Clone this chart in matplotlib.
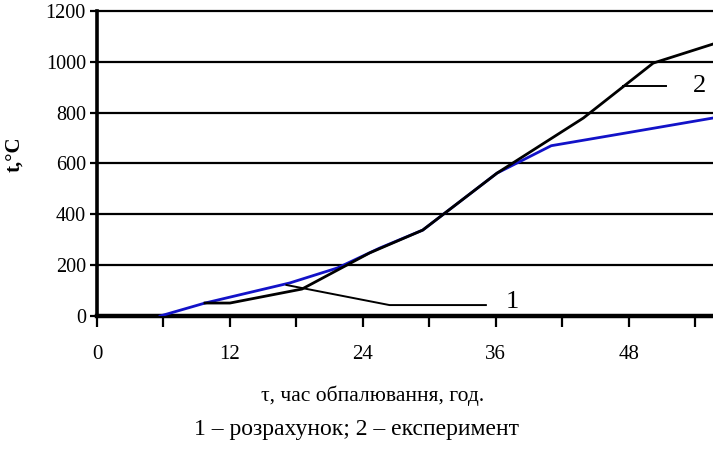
import numpy as np
import matplotlib.pyplot as plt

plt.rcParams['font.family'] = ['Liberation Serif', 'DejaVu Serif']

# 1 - розрахунок (blue), 2 - експеримент (black)
calc_h = [5.7, 9.75, 17.4, 21.7, 25.5, 29.4, 36.1, 41.0, 48.0, 55.6]
calc_t = [0, 51, 130, 189, 267, 338, 562, 670, 722, 779]

exp_h = [9.75, 12.0, 18.5, 24.6, 29.4, 36.1, 43.9, 50.2, 55.6]
exp_t = [51, 51, 106, 248, 338, 562, 779, 995, 1070]

x_ticks = [0, 6, 12, 18, 24, 30, 36, 42, 48, 54]
x_labels = ['0', '', '12', '', '24', '', '36', '', '48', '']
y_ticks = [0, 200, 400, 600, 800, 1000, 1200]

# leader lines for curve labels
lead1_h = [17.1, 26.4, 35.1]
lead1_t = [122, 43, 43]
lead2_h = [47.5, 51.4]
lead2_t = [905, 905]

fig = plt.figure(figsize=(7.13, 4.51), dpi=100)
ax = fig.add_axes([97 / 713, 1 - 316 / 451, 1 - 97 / 713, (316 - 11) / 451])

for yv in y_ticks[1:]:
    ax.axhline(yv, color='black', lw=1.6, clip_on=False, zorder=1)

ax.plot(calc_h, calc_t, color='#1212c8', lw=2.0, zorder=3)
ax.plot(exp_h, exp_t, color='black', lw=2.0, zorder=4)

ax.plot(lead1_h, lead1_t, color='black', lw=1.4, zorder=4)
ax.plot(lead2_h, lead2_t, color='black', lw=1.4, zorder=4)
ax.text(37.5, 55, '1', fontsize=19, ha='center', va='center')
ax.text(54.4, 905, '2', fontsize=19, ha='center', va='center')

ax.set_xlim(0, 55.6)
ax.set_ylim(0, 1200)
ax.set_xticks(x_ticks)
ax.set_xticklabels(x_labels)
ax.set_yticks(y_ticks)

for s in ['top', 'right']:
    ax.spines[s].set_visible(False)
ax.spines['left'].set_linewidth(2.6)
ax.spines['bottom'].set_linewidth(3.2)

ax.tick_params(axis='x', direction='out', length=8, width=1.6, pad=13, labelsize=15)
ax.tick_params(axis='y', direction='out', length=5, width=1.6, pad=3, labelsize=14.5)

fig.text(14 / 713, 1 - 154 / 451, 't,°C', rotation=90, fontsize=15, fontweight='bold',
         ha='center', va='center')
fig.text(373 / 713, 1 - 401 / 451, 'τ, час обпалювання, год.', fontsize=15.5,
         ha='center', va='baseline')
fig.text(356 / 713, 1 - 435 / 451, '1 – розрахунок; 2 – експеримент', fontsize=17,
         ha='center', va='baseline')

fig.savefig('out.png', dpi=100)
